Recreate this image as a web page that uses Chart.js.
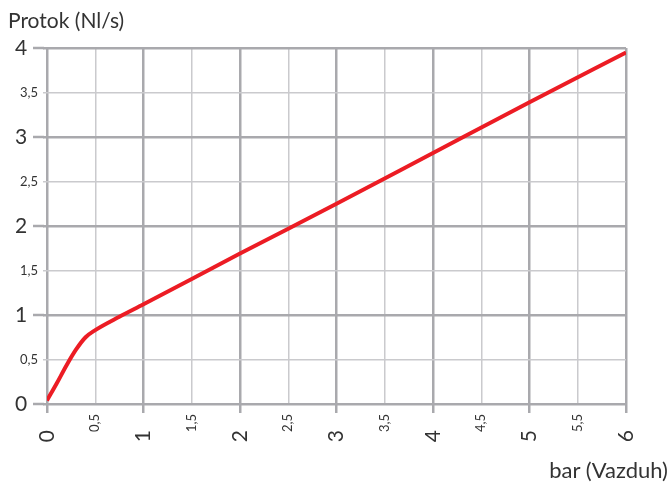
<!DOCTYPE html>
<html>
<head>
<meta charset="utf-8">
<script src="https://cdn.jsdelivr.net/npm/chart.js@4.4.0/dist/chart.umd.min.js"></script>
<style>
    body { margin: 0; background: #fff; }
    #wrap { position: relative; width: 670px; height: 484px; }
    .axis-title { position: absolute; font-family: Lato, sans-serif; color: #333; white-space: nowrap; line-height: 24px; }
</style>
</head>
<body>
<div id="wrap">
    <canvas id="flow-chart" width="670" height="484"></canvas>
    <div class="axis-title" style="left:8px; top:8px; font-size:21px;">Protok (Nl/s)</div>
    <div class="axis-title" style="right:2px; top:458px; font-size:22px;">bar (Vazduh)</div>
</div>
<script>
// pressure (bar) vs flow (Nl/s)
const pressure = [0, 0.1, 0.2, 0.3, 0.4, 0.5, 0.75, 1, 2, 3, 4, 5, 6];
const flow = [0.04, 0.23, 0.43, 0.61, 0.75, 0.83, 0.98, 1.12, 1.69, 2.25, 2.82, 3.39, 3.95];

const xTickLabels = ['0', '0,5', '1', '1,5', '2', '2,5', '3', '3,5', '4', '4,5', '5', '5,5', '6'];
const yTickLabels = ['0', '0,5', '1', '1,5', '2', '2,5', '3', '3,5', '4'];

const majorColor = '#a9a9ad';
const minorColor = '#cacacd';
const textColor = '#333';
const fontFamily = 'Lato, sans-serif';

const isMajor = (ctx) => ctx.tick && Number.isInteger(ctx.tick.value);

// longer tick marks on the whole-number y lines
const majorTicks = {
    id: 'majorTicks',
    beforeDatasetsDraw(chart) {
        const { ctx, chartArea } = chart;
        const y = chart.scales.y;
        ctx.save();
        ctx.strokeStyle = majorColor;
        ctx.lineWidth = 2.5;
        yTickLabels.forEach((l, i) => {
            if (i % 2) return;
            const py = y.getPixelForValue(i / 2);
            ctx.beginPath();
            ctx.moveTo(chartArea.left - 14, py);
            ctx.lineTo(chartArea.left - 3, py);
            ctx.stroke();
        });
        ctx.restore();
    }
};

new Chart(document.getElementById('flow-chart'), {
    type: 'line',
    data: {
        datasets: [{
            label: 'Protok',
            data: pressure.map((p, i) => ({ x: p, y: flow[i] })),
            borderColor: '#ec1c24',
            borderWidth: 4,
            pointRadius: 0,
            fill: false,
            cubicInterpolationMode: 'monotone'
        }]
    },
    options: {
        responsive: false,
        animation: false,
        layout: { padding: { top: 48, right: 44, left: 0, bottom: 0 } },
        plugins: { legend: { display: false }, tooltip: { enabled: false } },
        scales: {
            x: {
                type: 'linear',
                min: 0,
                max: 6,
                afterFit: (scale) => { scale.height = 80; },
                border: { display: false },
                grid: {
                    color: (ctx) => isMajor(ctx) ? majorColor : minorColor,
                    lineWidth: (ctx) => isMajor(ctx) ? 2.5 : 1.5,
                    tickColor: (ctx) => isMajor(ctx) ? majorColor : 'rgba(0,0,0,0)',
                    tickLength: 9
                },
                ticks: {
                    stepSize: 0.5,
                    autoSkip: false,
                    maxRotation: 90,
                    minRotation: 90,
                    padding: 1,
                    color: textColor,
                    font: (ctx) => ({ family: fontFamily, size: isMajor(ctx) ? 21 : 13 }),
                    callback: (value) => {
                        const label = xTickLabels[Math.round(value * 2)];
                        return Number.isInteger(value) ? label + '   ' : label;
                    }
                }
            },
            y: {
                min: 0,
                max: 4,
                afterFit: (scale) => { scale.width = 47; },
                border: { display: false },
                grid: {
                    color: (ctx) => isMajor(ctx) ? majorColor : minorColor,
                    lineWidth: (ctx) => isMajor(ctx) ? 2.5 : 1.5,
                    tickColor: (ctx) => isMajor(ctx) ? majorColor : minorColor,
                    tickLength: 4
                },
                ticks: {
                    stepSize: 0.5,
                    padding: 5,
                    color: textColor,
                    font: (ctx) => ({ family: fontFamily, size: isMajor(ctx) ? 21 : 13 }),
                    callback: (value) => {
                        const label = yTickLabels[Math.round(value * 2)];
                        return Number.isInteger(value) ? label + '  ' : label;
                    }
                }
            }
        }
    },
    plugins: [majorTicks]
});
</script>
</body>
</html>
